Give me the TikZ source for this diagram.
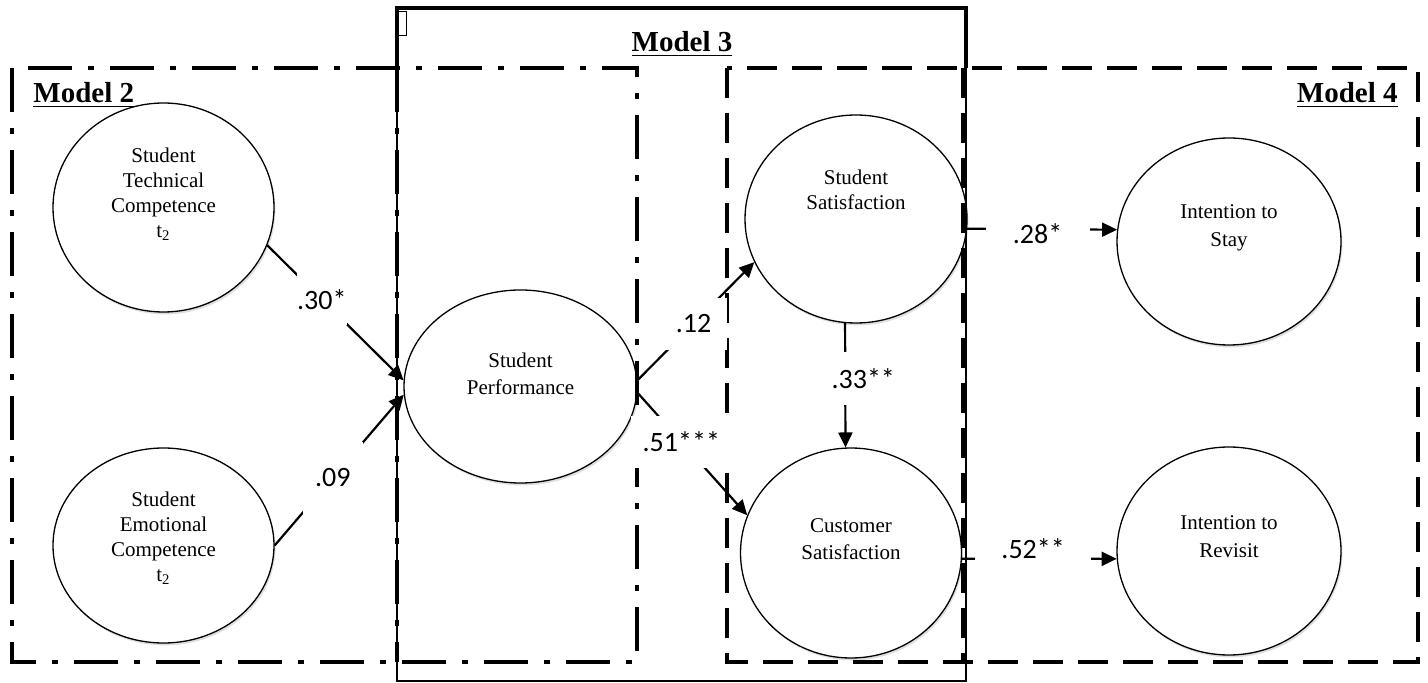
\documentclass[tikz,border=0pt]{standalone}
\usepackage{fontspec}
\setmainfont{Liberation Serif}
\newfontfamily\calfont{Carlito}
\usetikzlibrary{arrows.meta,shapes.geometric,shadows}
\begin{document}
\begin{tikzpicture}[x=0.5pt,y=-0.5pt,
  lat/.style={draw, ellipse, fill=white, line width=0.65pt, inner sep=0pt,
    drop shadow={shadow xshift=0.7pt, shadow yshift=-1.2pt, opacity=0.25}},
  etext/.style={align=center, font=\fontsize{10.5}{12.5}\selectfont, inner sep=0pt},
  arr/.style={line width=1.1pt, -{Triangle[length=7.5pt,width=7pt]}},
  lab/.style={fill=white, inner sep=0pt, font=\calfont\fontsize{14}{16}\selectfont},
  mlab/.style={font=\bfseries\fontsize{14.5}{17}\selectfont, inner sep=0pt},
  mtwoline/.style={line width=2.3pt, dash pattern=on 22pt off 8pt on 3pt off 8pt},
  mfourline/.style={line width=2.3pt, dash pattern=on 15pt off 7.5pt},
]
\useasboundingbox (0,0) rectangle (1428,683);

% latent variables
\node[lat, minimum width=110.5pt, minimum height=104.5pt] (STC) at (163.5,207.5) {};
\node[lat, minimum width=110.5pt, minimum height=97.5pt] (SEC) at (163.5,545.5) {};
\node[lat, minimum width=116.5pt, minimum height=96.5pt] (SP) at (520.5,386.5) {};
\node[lat, minimum width=111pt, minimum height=104pt] (SS) at (856,219) {};
\node[lat, minimum width=110.5pt, minimum height=105pt] (CS) at (851,553) {};
\node[lat, minimum width=112pt, minimum height=103.5pt] (IS) at (1229,241.5) {};
\node[lat, minimum width=112pt, minimum height=104pt] (IR) at (1229,551) {};

\node[etext] (STCt) at (163.5,194.5) {Student\\Technical\\Competence\\t\textsubscript{2}};
\node[etext] (SECt) at (163.5,538) {Student\\Emotional\\Competence\\t\textsubscript{2}};
\node[etext, font=\fontsize{10.5}{13.5}\selectfont] (SPt) at (520.5,374) {Student\\Performance};
\node[etext] (SSt) at (856,190) {Student\\Satisfaction};
\node[etext, font=\fontsize{10.5}{13.5}\selectfont] (CSt) at (851,539) {Customer\\Satisfaction};
\node[etext, font=\fontsize{10.5}{14}\selectfont] (ISt) at (1229,227.5) {Intention to\\Stay};
\node[etext, font=\fontsize{10.5}{14}\selectfont] (IRt) at (1229,537) {Intention to\\Revisit};

% Model 3 frame
\draw[line width=0.7pt] (397,8) rectangle (966,681);
\draw[line width=2.3pt] (397,68) -- (397,8) -- (966,8) -- (966,68);
\draw[fill=white, line width=0.4pt] (398,11) rectangle (406,35);
% Model 2 frame
\draw[mtwoline] (12,68) rectangle (637,662);
\draw[mtwoline] (397,68) -- (397,662);
% Model 4 frame
\draw[mfourline] (727,68) rectangle (1418,662);
\draw[mfourline] (963,68) -- (963,662);

% model labels
\node[mlab, anchor=west] (M2) at (33,95) {\underline{Model 2}};
\node[mlab] (M3) at (682,44) {\underline{Model 3}};
\node[mlab, anchor=east] (M4) at (1398,95) {\underline{Model 4}};

% paths
\draw[arr] (STC.-20) -- node[lab, pos=0.40, minimum width=25pt, minimum height=26pt] (L1) {.30*} (SP.177);
\draw[arr] (SEC.east) -- node[lab, pos=0.45, minimum width=30pt, minimum height=36pt] (L2) {.09} (SP.184);
\draw[arr] (SP.3) -- node[lab, pos=0.48, minimum width=33pt, minimum height=26pt] (L3) {.12} (SS.203);
\draw[arr] (SP.-3) -- node[lab, pos=0.40, minimum width=50pt, minimum height=26pt] (L4) {.51***} (CS.160);
\draw[arr] (SS.264) -- node[lab, pos=0.444, xshift=9pt, minimum width=32pt, minimum height=26.5pt] (L5) {.33**} (CS.93);
\draw[arr] (SS.-5) -- node[lab, pos=0.47, yshift=-2pt, minimum width=52pt, minimum height=12pt] (L6) {.28*} (IS.174);
\draw[arr] (CS.-3) -- node[lab, pos=0.46, yshift=5pt, minimum width=58pt, minimum height=12pt] (L7) {.52**} (IR.184);
\end{tikzpicture}
\end{document}
